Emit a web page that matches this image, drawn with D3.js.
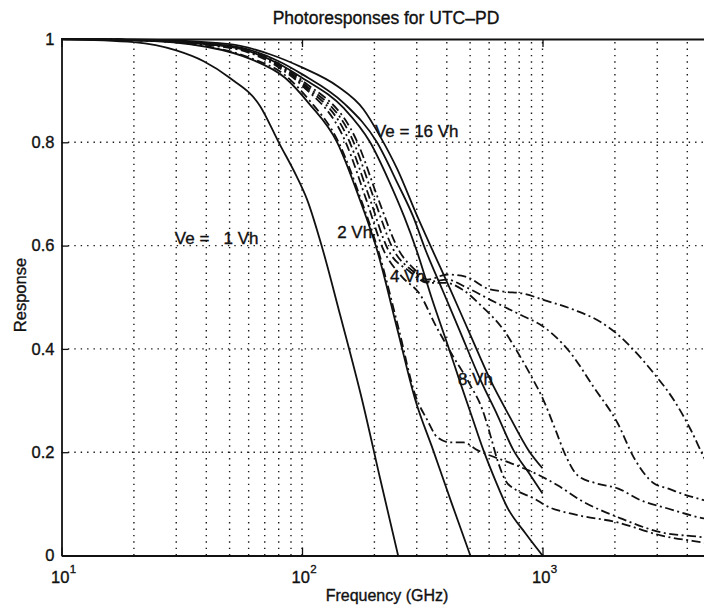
<!DOCTYPE html>
<html><head><meta charset="utf-8">
<script src="https://cdn.jsdelivr.net/npm/d3@7"></script>
<style>
html,body{margin:0;padding:0;background:#fff;}
svg{display:block;font-family:"Liberation Sans",Arial,Helvetica,sans-serif;}
</style></head><body>
<svg id="chart" width="704" height="608"></svg>
<script>
// ---------- data ----------
const chartTitle = "Photoresponses for UTC\u2013PD";
const xTitle = "Frequency (GHz)";
const yTitle = "Response";
const xMajor = [10, 100, 1000];
const xMajorExp = ["1", "2", "3"];
const yTicks = [0, 0.2, 0.4, 0.6, 0.8, 1];

// solid curves
const s1Freq = [10, 20, 30, 39, 50, 67, 80, 95, 105, 122, 144, 178, 211, 251];
const s1Resp = [1, 0.994, 0.978, 0.957, 0.925, 0.87, 0.80, 0.734, 0.689, 0.592, 0.466, 0.30, 0.15, 0];
const s2Freq = [10, 20, 40, 62, 85, 107, 140, 174, 205, 250, 296, 351, 420, 501];
const s2Resp = [1, 0.998, 0.985, 0.96, 0.925, 0.875, 0.80, 0.689, 0.592, 0.435, 0.301, 0.204, 0.10, 0];
const s3Freq = [10, 20, 50, 80, 100, 150, 192, 230, 266, 299, 348, 410, 451, 506, 568, 636, 714, 849, 1000];
const s3Resp = [1, 0.998, 0.985, 0.952, 0.925, 0.865, 0.80, 0.725, 0.656, 0.592, 0.495, 0.398, 0.34, 0.272, 0.204, 0.146, 0.093, 0.043, 0];
const s4Freq = [10, 20, 50, 80, 100, 150, 205, 250, 290, 326, 383, 451, 552, 649, 757, 874, 1000];
const s4Resp = [1, 0.998, 0.987, 0.957, 0.932, 0.875, 0.80, 0.72, 0.656, 0.592, 0.515, 0.437, 0.34, 0.272, 0.204, 0.161, 0.12];
const s5Freq = [10, 20, 50, 74, 100, 140, 180, 211, 249, 302, 348, 414, 501, 607, 736, 874, 1000];
const s5Resp = [1, 0.999, 0.99, 0.97, 0.945, 0.909, 0.864, 0.812, 0.748, 0.656, 0.592, 0.515, 0.427, 0.34, 0.266, 0.204, 0.169];

// dash-dot curves
const eFreq = [10, 20, 40, 62, 85, 107, 142, 176, 207, 252, 296, 332, 365, 414, 469, 536, 736, 953, 1155, 1440, 2113, 3100, 4690, 5000];
const eResp = [1, 0.998, 0.986, 0.962, 0.93, 0.882, 0.80, 0.689, 0.592, 0.44, 0.31, 0.262, 0.229, 0.219, 0.219, 0.204, 0.179, 0.157, 0.136, 0.107, 0.072, 0.045, 0.035, 0.033];
const cFreq = [10, 20, 50, 80, 100, 152, 185, 218, 260, 310, 358, 422, 501, 563, 607, 650, 700, 770, 917, 1049, 1346, 2054, 3100, 4690, 5000];
const cResp = [1, 0.998, 0.983, 0.945, 0.91, 0.80, 0.689, 0.592, 0.54, 0.505, 0.447, 0.388, 0.33, 0.282, 0.233, 0.184, 0.146, 0.128, 0.111, 0.095, 0.08, 0.064, 0.039, 0.025, 0.023];
const d3Freq = [10, 20, 50, 80, 100, 158, 192, 228, 280, 332, 394, 464, 552, 688, 787, 891, 1009, 1133, 1247, 1400, 1663, 2054, 2560, 3319, 4690, 5000];
const d3Resp = [1, 0.998, 0.984, 0.948, 0.913, 0.80, 0.689, 0.592, 0.55, 0.528, 0.528, 0.515, 0.485, 0.437, 0.394, 0.35, 0.301, 0.243, 0.194, 0.155, 0.14, 0.13, 0.107, 0.091, 0.072, 0.07];
const d4Freq = [10, 20, 50, 80, 100, 164, 200, 240, 290, 332, 402, 478, 607, 809, 1009, 1309, 1632, 2054, 2395, 2900, 3319, 3945, 4690, 5000];
const d4Resp = [1, 0.998, 0.985, 0.95, 0.916, 0.80, 0.689, 0.592, 0.55, 0.53, 0.534, 0.52, 0.495, 0.466, 0.443, 0.392, 0.326, 0.256, 0.19, 0.14, 0.13, 0.117, 0.107, 0.103];
const d5Freq = [10, 20, 50, 80, 100, 170, 208, 252, 300, 332, 402, 478, 590, 688, 833, 1009, 1346, 1745, 2113, 2326, 2900, 3516, 4140, 4690, 5000];
const d5Resp = [1, 0.998, 0.986, 0.952, 0.92, 0.80, 0.689, 0.592, 0.55, 0.534, 0.544, 0.54, 0.517, 0.511, 0.507, 0.495, 0.476, 0.452, 0.423, 0.404, 0.353, 0.301, 0.243, 0.19, 0.165];

// curve annotations (data coordinates)
const labelText = ["Ve = 16 Vh", "Ve =   1 Vh", "2 Vh", "4 Vh", "8 Vh"];
const labelFreq = [201, 29.6, 140, 232, 445];
const labelResp = [0.81, 0.603, 0.615, 0.5295, 0.330];

// ---------- drawing ----------
const svg = d3.select("#chart");
const x = d3.scaleLog().domain([10, 5000]).range([61.5, 710.6]);
const y = d3.scaleLinear().domain([0, 1]).range([555.5, 39]);
const ink = "#111";

svg.append("defs").append("clipPath").attr("id", "plot")
  .append("rect").attr("x", x(10)).attr("y", y(1) - 1)
  .attr("width", x(5000) - x(10)).attr("height", y(0) - y(1) + 2);

// grid
const gGrid = svg.append("g").attr("stroke", "#1a1a1a").attr("stroke-width", 1.4)
  .attr("stroke-dasharray", "1.4,5").attr("fill", "none");
gGrid.selectAll("line.v").data(x.ticks().filter(v => v > 10 && v < 5000)).join("line")
  .attr("class", "v").attr("x1", d => x(d)).attr("x2", d => x(d))
  .attr("y1", y(0)).attr("y2", y(1));
gGrid.selectAll("line.h").data(yTicks.filter(v => v > 0 && v < 1)).join("line")
  .attr("class", "h").attr("x1", x(10)).attr("x2", x(5000))
  .attr("y1", d => y(d)).attr("y2", d => y(d));

// curves
const dd = "9,3.5,2,3.5";
const series = [
  {f: s1Freq, r: s1Resp, dash: null},
  {f: s2Freq, r: s2Resp, dash: null},
  {f: s3Freq, r: s3Resp, dash: null},
  {f: s4Freq, r: s4Resp, dash: null},
  {f: s5Freq, r: s5Resp, dash: null},
  {f: eFreq, r: eResp, dash: dd},
  {f: cFreq, r: cResp, dash: dd},
  {f: d3Freq, r: d3Resp, dash: dd},
  {f: d4Freq, r: d4Resp, dash: dd},
  {f: d5Freq, r: d5Resp, dash: dd}
];
const line = d3.line().x(d => x(d[0])).y(d => y(d[1])).curve(d3.curveMonotoneX);
svg.append("g").attr("clip-path", "url(#plot)").selectAll("path").data(series).join("path")
  .attr("d", s => line(s.f.map((f, i) => [f, s.r[i]])))
  .attr("fill", "none").attr("stroke", ink).attr("stroke-width", 1.8)
  .attr("stroke-linejoin", "round")
  .attr("stroke-dasharray", s => s.dash);

// axes
function styleAxis(g) {
  g.select(".domain").attr("stroke", ink).attr("stroke-width", 1.8);
  g.selectAll(".tick line").attr("stroke", ink).attr("stroke-width", 1.3);
  g.selectAll("text").attr("fill", ink).attr("stroke", ink).attr("stroke-width", 0.35)
    .style("font-size", "16.5px")
    .style("font-family", "'Liberation Sans', Arial, sans-serif");
}
svg.append("g").attr("transform", `translate(0,${y(0)})`)
  .call(d3.axisBottom(x).tickValues(xMajor).tickSize(-8).tickSizeOuter(0).tickFormat(""))
  .call(styleAxis);
svg.append("g").attr("transform", `translate(0,${y(1)})`)
  .call(d3.axisTop(x).tickValues(xMajor).tickSize(-8).tickSizeOuter(0).tickFormat(""))
  .call(styleAxis);
svg.append("g").attr("transform", `translate(${x(10)},0)`)
  .call(d3.axisLeft(y).tickValues(yTicks).tickSize(-7).tickSizeOuter(0).tickPadding(7)
    .tickFormat(d => (d === 0 ? "0" : d === 1 ? "1" : d3.format(".1f")(d))))
  .call(styleAxis);

const txt = g => g.attr("fill", ink).attr("stroke", ink).attr("stroke-width", 0.35);

// x tick labels with superscripts
const xl = svg.append("g").call(txt);
xMajor.forEach((v, i) => {
  const t = xl.append("text").attr("x", x(v) - 10.5).attr("y", 583)
    .style("font-size", "16.5px");
  t.append("tspan").text("10");
  t.append("tspan").attr("dy", -10).attr("dx", 0.5).style("font-size", "11.5px").text(xMajorExp[i]);
});

// titles
svg.append("text").attr("x", 386).attr("y", 24).attr("text-anchor", "middle")
  .call(txt).style("font-size", "17.5px").text(chartTitle);
svg.append("text").attr("x", 387).attr("y", 601).attr("text-anchor", "middle")
  .call(txt).style("font-size", "16px").text(xTitle);
svg.append("text").attr("transform", "translate(26,295) rotate(-90)").attr("text-anchor", "middle")
  .call(txt).style("font-size", "16.5px").text(yTitle);

// curve labels
svg.append("g").call(txt).selectAll("text").data(labelText).join("text")
  .attr("x", (d, i) => x(labelFreq[i])).attr("y", (d, i) => y(labelResp[i]))
  .style("font-size", "17px").style("white-space", "pre")
  .text(d => d);
</script></body></html>
